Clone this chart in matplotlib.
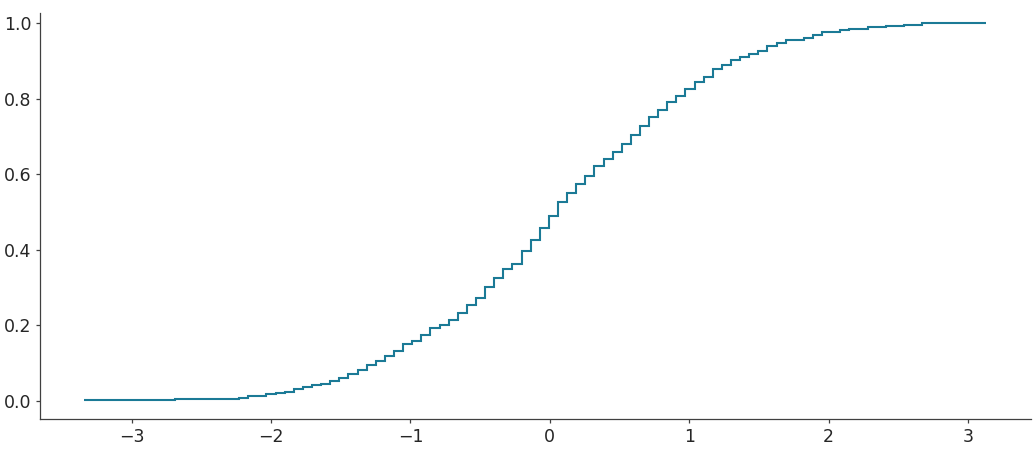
import matplotlib
matplotlib.use('Agg')
import matplotlib.pyplot as plt
import numpy as np

# sample range (first and last bin edge) and number of bins
x_min = -3.34
x_max = 3.13
n_bins = 99

# cumulative proportion at the end of each bin
cum_prop = [
    0.003, 0.003, 0.003, 0.003, 0.003, 0.003, 0.003, 0.003, 0.003, 0.003,
    0.006, 0.006, 0.006, 0.006, 0.006, 0.006, 0.006,
    0.009, 0.014, 0.014, 0.018, 0.020, 0.025, 0.031, 0.037, 0.043,
    0.046, 0.054, 0.062, 0.072, 0.083, 0.096, 0.106, 0.120, 0.133,
    0.151, 0.159, 0.175, 0.192, 0.202, 0.215, 0.233, 0.254, 0.273,
    0.302, 0.326, 0.350, 0.363, 0.397, 0.425, 0.459, 0.491, 0.527,
    0.550, 0.574, 0.595, 0.622, 0.640, 0.659, 0.680, 0.703, 0.729,
    0.753, 0.771, 0.793, 0.807, 0.825, 0.844, 0.859, 0.878, 0.889,
    0.902, 0.912, 0.918, 0.926, 0.939, 0.949, 0.955, 0.957, 0.962,
    0.968, 0.976, 0.978, 0.983,
    0.986, 0.986, 0.990, 0.990, 0.993, 0.993, 0.995, 0.995,
    1.000, 1.000, 1.000, 1.000, 1.000, 1.000, 1.000,
]

edges = np.linspace(x_min, x_max, n_bins + 1)

fig = plt.figure(figsize=(10.35, 4.5), dpi=100)
ax = fig.add_axes([0.0389, 0.0689, 0.9572, 0.9015])

ax.stairs(cum_prop, edges, baseline=None, color='#1b7a96', linewidth=1.5)
ax.set_xlim(-3.656, 3.452)
ax.set_ylim(-0.0477, 1.0265)

ax.spines['top'].set_visible(False)
ax.spines['right'].set_visible(False)
for side in ['left', 'bottom']:
    ax.spines[side].set_color('#404040')
    ax.spines[side].set_linewidth(0.9)
ax.tick_params(labelsize=12.5, colors='#404040', labelcolor='#262626',
               length=3, width=0.9)
ax.set_xticks([-3, -2, -1, 0, 1, 2, 3])
ax.set_yticks([0.0, 0.2, 0.4, 0.6, 0.8, 1.0])

fig.savefig('out.png', dpi=100)
